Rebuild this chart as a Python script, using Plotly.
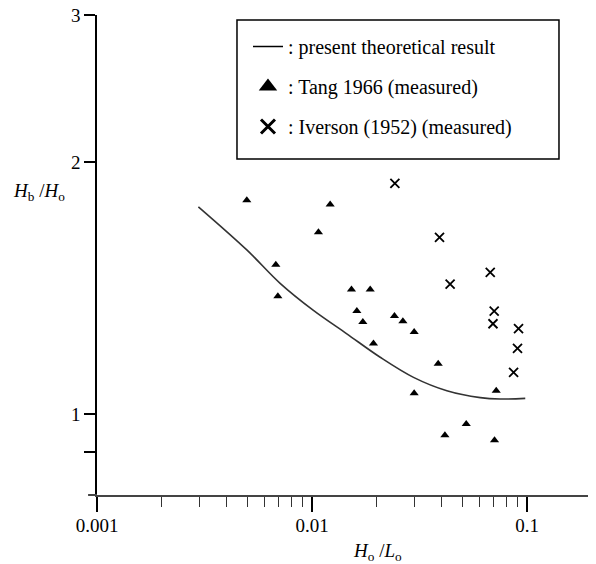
import plotly.graph_objects as go

# Theoretical curve
theory_x = [0.00296, 0.00497, 0.00710, 0.01014, 0.01450, 0.02072, 0.0296, 0.0423, 0.0605, 0.0749, 0.0979]
theory_y = [1.769, 1.571, 1.433, 1.330, 1.247, 1.169, 1.106, 1.066, 1.046, 1.042, 1.044]

# Tang 1966 (measured)
tang_x = [0.00497, 0.01213, 0.01070, 0.00678, 0.00693, 0.01524, 0.01862, 0.01614, 0.01721, 0.01928,
          0.02414, 0.02642, 0.02981, 0.03855, 0.02981, 0.07175, 0.05205, 0.04142, 0.07045]
tang_y = [1.801, 1.780, 1.649, 1.508, 1.383, 1.409, 1.409, 1.328, 1.288, 1.214,
          1.310, 1.291, 1.253, 1.148, 1.059, 1.066, 0.973, 0.943, 0.930]

# Iverson (1952) (measured)
iver_x = [0.02425, 0.0391, 0.0673, 0.0438, 0.0702, 0.0693, 0.0911, 0.0901, 0.0864]
iver_y = [1.887, 1.626, 1.477, 1.430, 1.327, 1.282, 1.265, 1.198, 1.121]

x_major = [0.001, 0.01, 0.1]
x_major_text = ["0.001", "0.01", "0.1"]
x_minor = [0.002, 0.003, 0.004, 0.005, 0.006, 0.007, 0.008, 0.009,
           0.02, 0.03, 0.04, 0.05, 0.06, 0.07, 0.08, 0.09, 0.2]
y_major = [1, 2, 3]
y_major_text = ["1", "2", "3"]
y_minor = [0.9]

legend_names = [": present theoretical result", ": Tang 1966 (measured)", ": Iverson (1952) (measured)"]

FONT = "Liberation Serif, Times New Roman, serif"

fig = go.Figure()
fig.add_trace(go.Scatter(x=theory_x, y=theory_y, mode="lines", line=dict(color="#333333", width=1.6, shape="spline"),
                         showlegend=False, hoverinfo="skip"))
fig.add_trace(go.Scatter(x=tang_x, y=tang_y, mode="markers",
                         marker=dict(symbol="triangle-up", size=8, color="black"), showlegend=False))
fig.add_trace(go.Scatter(x=iver_x, y=iver_y, mode="markers",
                         marker=dict(symbol="x-thin", size=9, color="black", line=dict(color="black", width=1.8)),
                         showlegend=False))

# legend entries
fig.add_trace(go.Scatter(x=[None], y=[None], mode="lines", line=dict(color="black", width=1.5),
                         name=legend_names[0], legendgroup="a"))
fig.add_trace(go.Scatter(x=[None], y=[None], mode="markers", marker=dict(symbol="triangle-up", size=20, color="black"),
                         name=legend_names[1], legendgroup="b"))
fig.add_trace(go.Scatter(x=[None], y=[None], mode="markers",
                         marker=dict(symbol="x-thin", size=14, color="black", line=dict(color="black", width=3)),
                         name=legend_names[2], legendgroup="c"))

fig.update_layout(
    width=588, height=556,
    margin=dict(l=89, r=4, t=7, b=69, autoexpand=False),
    paper_bgcolor="white", plot_bgcolor="white",
    font=dict(family=FONT, size=19, color="black"),
    legend=dict(x=0.305, y=0.975, xanchor="left", yanchor="top", bgcolor="rgba(0,0,0,0)",
                borderwidth=0, tracegroupgap=11, font=dict(size=20, family=FONT)),
    shapes=[dict(type="rect", xref="paper", yref="paper", x0=0.2828, x1=0.9333, y0=0.70, y1=0.9896,
                 line=dict(color="black", width=1.5), fillcolor="rgba(0,0,0,0)"),
            dict(type="line", xref="paper", yref="paper", x0=-0.018, x1=0, y0=0, y1=0,
                 line=dict(color="#444444", width=2))],
    annotations=[
        dict(text="<i>H</i><sub>b</sub> /<i>H</i><sub>o</sub>", xref="paper", yref="paper",
             x=-0.117, y=0.631, xanchor="center", yanchor="middle", showarrow=False,
             font=dict(size=19, family=FONT)),
        dict(text="<i>H</i><sub>o</sub> /<i>L</i><sub>o</sub>", xref="paper", yref="paper",
             x=0.566, y=-0.119, xanchor="center", yanchor="middle", showarrow=False,
             font=dict(size=19, family=FONT)),
    ],
)

fig.update_xaxes(type="log", range=[-3, -0.69897], showgrid=False, zeroline=False, automargin=False,
                 showline=True, linecolor="#444444", linewidth=2,
                 tickmode="array", tickvals=x_major, ticktext=x_major_text,
                 ticks="outside", ticklen=15, tickwidth=1.5, tickcolor="black",
                 ticklabeloverflow="allow", ticklabelstandoff=-3,
                 minor=dict(tickmode="array", tickvals=x_minor, ticks="outside", ticklen=10,
                            tickwidth=1.2, tickcolor="#333333", showgrid=False),
                 tickfont=dict(size=19, family=FONT))
fig.update_yaxes(type="log", range=[-0.09691, 0.47712], showgrid=False, zeroline=False, automargin=False,
                 showline=True, linecolor="black", linewidth=1.5,
                 tickmode="array", tickvals=y_major, ticktext=y_major_text,
                 ticks="outside", ticklen=11, tickwidth=1.5, tickcolor="black",
                 ticklabeloverflow="allow",
                 minor=dict(tickmode="array", tickvals=y_minor, ticks="outside", ticklen=11,
                            tickwidth=1.5, tickcolor="black", showgrid=False),
                 tickfont=dict(size=19, family=FONT))

fig.write_html("out.html")
